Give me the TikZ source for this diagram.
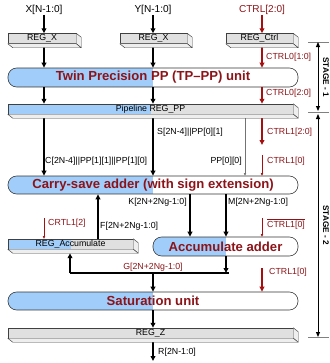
\documentclass[tikz,border=0pt]{standalone}
\usepackage{fontspec}
\setmainfont{Liberation Sans}
\usetikzlibrary{arrows.meta,calc}
\definecolor{ublue}{RGB}{160,205,250}
\definecolor{dred}{RGB}{140,20,25}
\definecolor{rline}{RGB}{165,15,15}
\definecolor{boxgray}{RGB}{224,224,224}
\definecolor{facegray}{RGB}{238,238,238}
\begin{document}
\begin{tikzpicture}[x=0.03cm,y=-0.03cm,
 lab/.style={font=\fontsize{7.5}{8}\selectfont, inner sep=0pt},
 inlab/.style={font=\fontsize{8.6}{9}\selectfont, inner sep=0pt},
 rlab/.style={lab, text=dred},
 regbox/.style={draw=black!75, line width=0.4pt, fill=boxgray, minimum height=0.3cm, inner sep=0pt, font=\fontsize{7.5}{8}\selectfont},
 halfblue/.style={path picture={\fill[ublue, sharp corners] (path picture bounding box.south west) rectangle (path picture bounding box.north);}},
 unit/.style={draw=black!80, line width=0.5pt, fill=white, rounded corners=0.26cm, halfblue, inner sep=0pt, font=\fontsize{11.2}{12}\selectfont\bfseries, text=dred},
 arr/.style={line width=1.1pt, -{Triangle[length=0.15cm,width=0.14cm]}},
 rarr/.style={arr, draw=rline},
 tarr/.style={line width=0.35pt, -{Triangle[length=0.08cm,width=0.07cm]}},
 face/.style={draw=black!75, line width=0.4pt, fill=facegray, line join=round},
 stg/.style={line width=0.8pt, {Triangle[length=0.15cm,width=0.12cm]}-{Triangle[length=0.15cm,width=0.12cm]}},
 stlab/.style={font=\fontsize{7}{8}\selectfont\bfseries, inner sep=0pt, rotate=-90},
]
\useasboundingbox (0,0) rectangle (329,363);

% inputs
\node[inlab] (xin) at (44,10) {X[N-1:0]};
\node[inlab] (yin) at (153,10) {Y[N-1:0]};
\node[inlab, text=dred] (cin) at (262,10) {CTRL[2:0]};

% registers and units
\node[regbox, minimum width=2.04cm] (rx) at (42,38.5) {REG\_X};
\node[regbox, minimum width=2.01cm] (ry) at (153.5,38.5) {REG\_X};
\node[regbox, minimum width=2.01cm] (rc) at (259.5,38.5) {REG\_Ctrl};
\node[unit, minimum width=8.7cm, minimum height=0.57cm] (tp) at (153,77.5) {Twin Precision PP (TP–PP) unit};
\node[regbox, halfblue, minimum width=8.55cm] (pp) at (150.5,109) {Pipeline REG\_PP};
\node[unit, minimum width=8.7cm, minimum height=0.54cm] (csa) at (153,185) {Carry-save adder (with sign extension)};
\node[regbox, halfblue, minimum width=3.75cm] (ra) at (70.5,244) {REG\_Accumulate};
\node[unit, minimum width=4.35cm, minimum height=0.57cm] (aa) at (225.5,246.5) {Accumulate adder};
\node[unit, minimum width=8.7cm, minimum height=0.54cm] (sat) at (153,301) {Saturation unit};
\node[regbox, minimum width=8.55cm] (rz) at (150.5,333) {REG\_Z};

% helper coordinates
\coordinate (cx) at (262,0);
\coordinate (ppx) at (245,0);
\coordinate (fx) at (98,0);
\coordinate (kx) at (190,0);
\coordinate (mx) at (226,0);
\coordinate (gl) at (70,273);
\coordinate (gm) at (226,273);
\coordinate (gr) at (229,273);
\coordinate (gs) at (153,273);
\coordinate (crt) at (44,218);
\coordinate (nct) at (262,218);
\coordinate (ct3) at (262,268);
\coordinate (ct1) at (262,155);
\coordinate (ct2) at (262,145);
\coordinate (rout) at (153,361);

% black connectors
\draw[arr] (xin.south) -- (xin.south |- rx.north);
\draw[arr] (yin.south) -- (yin.south |- ry.north);
\draw[arr] (rx.south -| xin.south) -- (tp.north -| xin.south);
\draw[arr] (ry.south -| yin.south) -- (tp.north -| yin.south);
\draw[arr] (tp.south -| xin.south) -- (pp.north -| xin.south);
\draw[arr] (tp.south -| yin.south) -- (pp.north -| yin.south);
\draw[arr] (pp.south -| xin.south) -- (csa.north -| xin.south);
\draw[arr] (pp.south -| yin.south) -- (csa.north -| yin.south);
\draw[tarr, draw=black!55] (pp.south -| ppx) -- (csa.north -| ppx);
\draw[arr] (ra.north -| fx) -- (csa.south -| fx);
\draw[arr] (csa.south -| kx) -- (aa.north -| kx);
\draw[arr] (csa.south -| mx) -- (aa.north -| mx);
\draw[arr] (aa.south -| mx) -- (gm);
\draw[line width=1.1pt] (gl) -- (gr);
\draw[arr] (gl) -- ($(ra.south -| gl)+(0,4)$);
\draw[arr] (gs) -- (sat.north -| gs);
\draw[arr] (sat.south -| gs) -- (rz.north -| gs);
\draw[arr] (rz.south -| gs) -- (rout);

% red connectors
\draw[rarr] (cin.south) -- (cin.south |- rc.north);
\draw[rarr] (rc.south -| cx) -- (tp.north -| cx);
\draw[rarr] (tp.south -| cx) -- (pp.north -| cx);
\draw[rarr] (pp.south -| cx) -- (ct2);
\draw[tarr, draw=rline] (ct1) -- (csa.north -| ct1);
\draw[tarr, draw=rline] (crt) -- (ra.north -| crt);
\draw[tarr, draw=rline] (nct) -- (aa.north -| nct);
\draw[rarr] (ct3) -- (sat.north -| ct3);

% 3D faces
\foreach \n in {rx,ry,rc,pp,ra,rz} {
  \filldraw[face] (\n.north east) -- ($(\n.north east)+(5,4)$) -- ($(\n.south east)+(5,4)$) -- (\n.south east) -- cycle;
  \filldraw[face] (\n.south west) -- (\n.south east) -- ($(\n.south east)+(5,4)$) -- ($(\n.south west)+(5,4)$) -- cycle;
}

% labels
\node[rlab, anchor=west] (l1) at (266,57) {CTRL0[1:0]};
\node[rlab, anchor=west] (l2) at (266,93) {CTRL0[2:0]};
\node[lab, anchor=west] (l3) at (157,132) {S[2N-4]||PP[0][1]};
\node[rlab, anchor=west] (l4) at (267,132) {CTRL1[2:0]};
\node[lab, anchor=west] (l5) at (45,161) {C[2N-4]||PP[1][1]||PP[1][0]};
\node[lab, anchor=east] (l6) at (242,161) {PP[0][0]};
\node[rlab, anchor=west] (l7) at (267,161) {CTRL1[0]};
\node[lab, anchor=east] (l8) at (187,202) {K[2N+2Ng-1:0]};
\node[lab, anchor=west] (l9) at (228,202) {M[2N+2Ng-1:0]};
\node[rlab, anchor=west] (l10) at (48,223) {CRTL1[2]};
\node[lab, anchor=west] (l11) at (100,226) {F[2N+2Ng-1:0]};
\node[rlab, anchor=west] (l12) at (267,224) {$\overline{\hbox{CTRL1[0]}}$};
\node[rlab] (l13) at (153,267) {G[2N+2Ng-1:0]};
\node[rlab, anchor=west] (l14) at (269,272) {CTRL1[0]};
\node[lab, anchor=west] (l15) at (158,352) {R[2N-1:0]};

% stages
\coordinate (s0) at (308,42);
\coordinate (s0e) at (329,42);
\coordinate (s1) at (308,112);
\coordinate (s1e) at (329,112);
\coordinate (s2) at (308,337);
\coordinate (s2e) at (329,337);
\draw[black!50, line width=0.4pt] (s0) -- (s0e) (s1) -- (s1e) (s2) -- (s2e);
\coordinate (a0) at (318,42);
\coordinate (a1) at (318,111);
\coordinate (a2) at (318,114);
\coordinate (a3) at (318,337);
\draw[stg] (a0) -- (a1);
\draw[stg] (a2) -- (a3);
\node[stlab] (st1) at (326,77) {STAGE - 1};
\node[stlab] (st2) at (326,225) {STAGE - 2};
\end{tikzpicture}
\end{document}
